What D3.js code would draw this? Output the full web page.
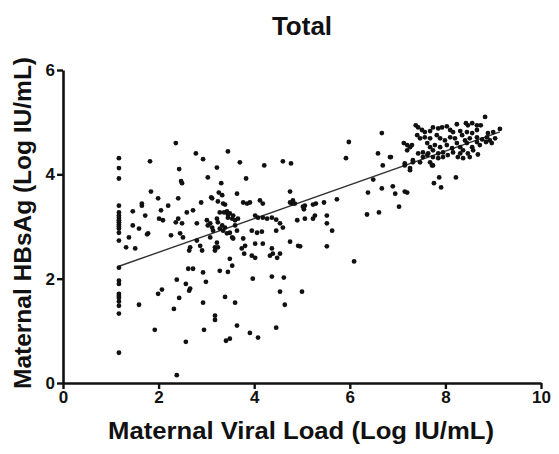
<!DOCTYPE html>
<html><head><meta charset="utf-8">
<script src="https://cdn.jsdelivr.net/npm/d3@7"></script>
<style>html,body{margin:0;padding:0;background:#fff;}svg{display:block;}</style>
</head><body>
<svg id="chart" width="559" height="454"></svg>
<script>
const chartTitle = "Total";
const xTitle = "Maternal Viral Load (Log IU/mL)";
const yTitle = "Maternal HBsAg (Log IU/mL)";
const xTicks = [0, 2, 4, 6, 8, 10];
const yTicks = [0, 2, 4, 6];
const fitSlope = 0.323;
const fitIntercept = 1.86;

// points at the lower limit of viral load
const lowX = 1.17;
const lowY = [4.31,4.12,3.92,3.40,3.27,3.21,3.17,3.12,3.08,3.04,3.00,2.96,2.88,2.73,2.21,1.96,1.90,1.71,1.67,1.63,1.56,1.48,1.33,0.58];

const groupB = [[2.36,4.60],[1.82,4.25],[2.78,4.40],[2.93,4.29],[2.43,4.10],[2.47,3.87],[2.49,3.83],[3.03,3.94],[3.22,4.13],[1.84,3.67],[1.99,3.54],[2.41,3.54],[1.65,3.44],[1.65,3.40],[2.20,3.40],[2.89,3.46],[3.10,3.56],[1.46,3.29],[1.72,3.21],[2.05,3.31],[2.01,3.15],[2.09,3.12],[2.59,3.27],[2.72,3.31],[2.41,3.15],[2.36,3.08],[2.49,3.06],[1.46,3.02],[1.59,2.96],[1.78,2.87],[1.76,2.85],[1.38,2.79],[2.26,2.83],[2.45,2.87],[2.51,2.79],[2.80,3.06],[3.03,3.02],[1.32,2.60],[1.51,2.58],[2.66,2.60],[2.64,2.54],[2.80,2.73],[2.87,2.63],[2.91,2.54],[3.08,2.79],[3.18,2.60]];

const groupC = [[3.45,4.44],[3.70,4.23],[4.21,4.17],[4.60,4.25],[4.77,4.21],[3.83,3.92],[3.31,3.83],[4.75,3.67],[3.26,3.65],[3.33,3.60],[3.64,3.63],[3.12,3.54],[3.24,3.48],[3.35,3.44],[3.39,3.42],[3.77,3.46],[3.85,3.44],[3.91,3.46],[4.12,3.50],[4.18,3.44],[4.75,3.46],[4.85,3.44],[5.23,3.42],[5.04,3.33],[3.28,3.27],[3.43,3.29],[3.49,3.25],[3.56,3.21],[3.45,3.17],[3.54,3.15],[3.60,3.12],[3.01,3.12],[3.08,3.06],[3.12,2.98],[3.14,2.92],[4.02,3.21],[4.08,3.17],[4.18,3.17],[4.27,3.15],[4.37,3.17],[4.46,3.13],[4.54,3.06],[4.60,2.98],[4.90,3.12],[5.06,3.15],[5.23,3.15],[3.22,2.69],[3.24,2.60],[3.18,2.54],[3.77,2.77],[3.81,2.63],[3.74,2.58],[3.95,2.92],[4.06,2.88],[4.16,2.90],[4.46,2.92],[4.02,2.67],[4.18,2.67],[4.75,2.71],[4.92,2.63],[3.95,2.44],[4.02,2.40],[4.37,2.58],[4.39,2.48],[4.33,2.44],[5.27,3.21],[3.22,3.15],[3.24,3.08],[3.33,3.02],[3.28,2.96],[3.35,2.92],[3.39,2.98],[3.43,2.87],[3.49,2.88],[3.54,2.79],[3.56,2.77],[3.64,2.92],[3.60,3.02],[3.66,3.15],[3.45,3.23],[3.37,3.27]];

const groupD = [[2.62,2.19],[2.72,2.19],[2.93,2.12],[3.28,2.15],[3.45,2.13],[3.49,2.38],[3.54,2.25],[2.38,1.98],[2.57,1.90],[2.99,1.94],[2.64,1.77],[2.66,1.81],[2.07,1.79],[1.99,1.71],[2.43,1.63],[1.59,1.50],[2.32,1.42],[2.93,1.54],[3.39,1.65],[3.60,1.54],[3.97,2.00],[4.37,2.04],[4.62,2.02],[4.54,1.75],[5.00,1.75],[4.64,1.50],[3.18,1.29],[3.18,1.21],[1.92,1.02],[2.95,1.02],[3.64,1.10],[3.91,0.96],[4.46,1.06],[4.08,0.87],[2.57,0.79],[3.41,0.81],[3.49,0.85],[2.38,0.15],[4.48,2.40],[3.79,2.48]];

const groupE = [[5.98,4.62],[5.92,4.31],[6.59,4.40],[6.86,4.33],[6.69,4.17],[7.15,4.17],[7.32,4.27],[7.26,4.12],[6.49,3.90],[6.38,3.65],[6.67,3.73],[6.90,3.77],[6.95,3.63],[7.15,3.67],[7.20,3.65],[7.03,3.38],[6.36,3.23],[6.61,3.27],[5.02,3.38],[5.06,3.40],[5.29,3.44],[5.46,3.46],[5.73,3.52],[5.52,3.21],[5.52,3.06],[5.63,2.92],[5.52,2.62],[6.09,2.33],[6.67,4.79],[7.74,4.17],[7.87,3.94],[8.22,3.94],[7.76,3.83],[7.91,3.75],[7.20,4.56],[7.13,4.60],[4.81,3.50],[4.79,3.44],[4.54,2.48],[4.96,2.62]];

const groupF = [[8.83,5.10],[8.43,4.98],[8.47,4.94],[8.56,4.98],[8.66,4.94],[8.74,4.94],[8.24,4.96],[8.03,4.92],[7.85,4.88],[7.93,4.90],[7.74,4.90],[7.38,4.94],[7.43,4.90],[7.51,4.85],[7.57,4.81],[7.68,4.83],[8.10,4.85],[8.16,4.81],[8.31,4.83],[8.45,4.81],[8.56,4.79],[8.66,4.85],[8.89,4.79],[9.00,4.81],[9.14,4.87],[7.41,4.75],[7.47,4.69],[7.57,4.71],[7.68,4.69],[7.82,4.75],[7.89,4.69],[7.99,4.65],[8.10,4.71],[8.20,4.69],[8.35,4.75],[8.41,4.65],[8.51,4.69],[8.66,4.71],[8.77,4.67],[8.87,4.71],[8.93,4.65],[9.04,4.69],[7.30,4.56],[7.62,4.60],[7.68,4.52],[7.78,4.56],[7.89,4.52],[8.03,4.56],[8.14,4.50],[8.24,4.60],[8.31,4.52],[8.45,4.60],[8.56,4.52],[8.66,4.62],[8.72,4.56],[8.85,4.62],[8.97,4.60],[7.20,4.46],[7.53,4.42],[7.64,4.40],[7.74,4.46],[7.85,4.40],[7.95,4.42],[8.05,4.37],[8.16,4.42],[8.31,4.40],[8.37,4.46],[8.47,4.40],[8.58,4.46],[7.43,4.40],[7.53,4.33],[7.74,4.33],[7.85,4.31],[7.95,4.33],[8.26,4.33],[8.37,4.31],[8.51,4.33],[8.68,4.38],[7.32,4.23],[7.47,4.23],[7.62,4.37],[7.68,4.23],[7.72,4.17],[6.84,4.33],[7.15,4.21],[7.26,4.08],[7.26,4.52]];

const points = lowY.map(y => [lowX, y]).concat(groupB, groupC, groupD, groupE, groupF);

const FONT = "'Liberation Sans', Arial, Helvetica, sans-serif";
const svg = d3.select("#chart");
const x = d3.scaleLinear().domain([0, 10]).range([63, 541]);
const y = d3.scaleLinear().domain([0, 6]).range([383, 70]);

// fit line
const xMin = d3.min(points, d => d[0]), xMax = d3.max(points, d => d[0]);
svg.append("line")
  .attr("x1", x(xMin)).attr("y1", y(fitIntercept + fitSlope * xMin))
  .attr("x2", x(xMax)).attr("y2", y(fitIntercept + fitSlope * xMax))
  .attr("stroke", "#333").attr("stroke-width", 1.4);

// points
svg.append("g").selectAll("circle").data(points).join("circle")
  .attr("cx", d => x(d[0])).attr("cy", d => y(d[1]))
  .attr("r", 2.4).attr("fill", "#111");

// axes
const fmt = d3.format("d");
const xAxis = svg.append("g").attr("transform", "translate(0,383)")
  .call(d3.axisBottom(x).tickValues(xTicks).tickFormat(fmt).tickSize(6).tickSizeOuter(0).tickPadding(2));
const yAxis = svg.append("g").attr("transform", "translate(63,0)")
  .call(d3.axisLeft(y).tickValues(yTicks).tickFormat(fmt).tickSize(6).tickSizeOuter(0).tickPadding(2));
[xAxis, yAxis].forEach(g => {
  g.select(".domain").attr("stroke", "#111").attr("stroke-width", 2.6);
  g.selectAll(".tick line").attr("stroke", "#111").attr("stroke-width", 2.4);
  g.selectAll(".tick text").attr("fill", "#111")
    .style("font-family", FONT).style("font-weight", "bold").style("font-size", "17px");
});

// titles
svg.append("text").text(chartTitle)
  .attr("x", 302).attr("y", 35).attr("text-anchor", "middle")
  .style("font-family", FONT).style("font-weight", "bold").style("font-size", "26px").attr("fill", "#111");
svg.append("text").text(xTitle)
  .attr("x", 301).attr("y", 439).attr("text-anchor", "middle")
  .attr("textLength", 386).attr("lengthAdjust", "spacingAndGlyphs")
  .style("font-family", FONT).style("font-weight", "bold").style("font-size", "24px").attr("fill", "#111");
svg.append("text").text(yTitle)
  .attr("transform", "translate(31,223) rotate(-90)").attr("text-anchor", "middle")
  .attr("textLength", 332).attr("lengthAdjust", "spacingAndGlyphs")
  .style("font-family", FONT).style("font-weight", "bold").style("font-size", "24px").attr("fill", "#111");
</script>
</body></html>
